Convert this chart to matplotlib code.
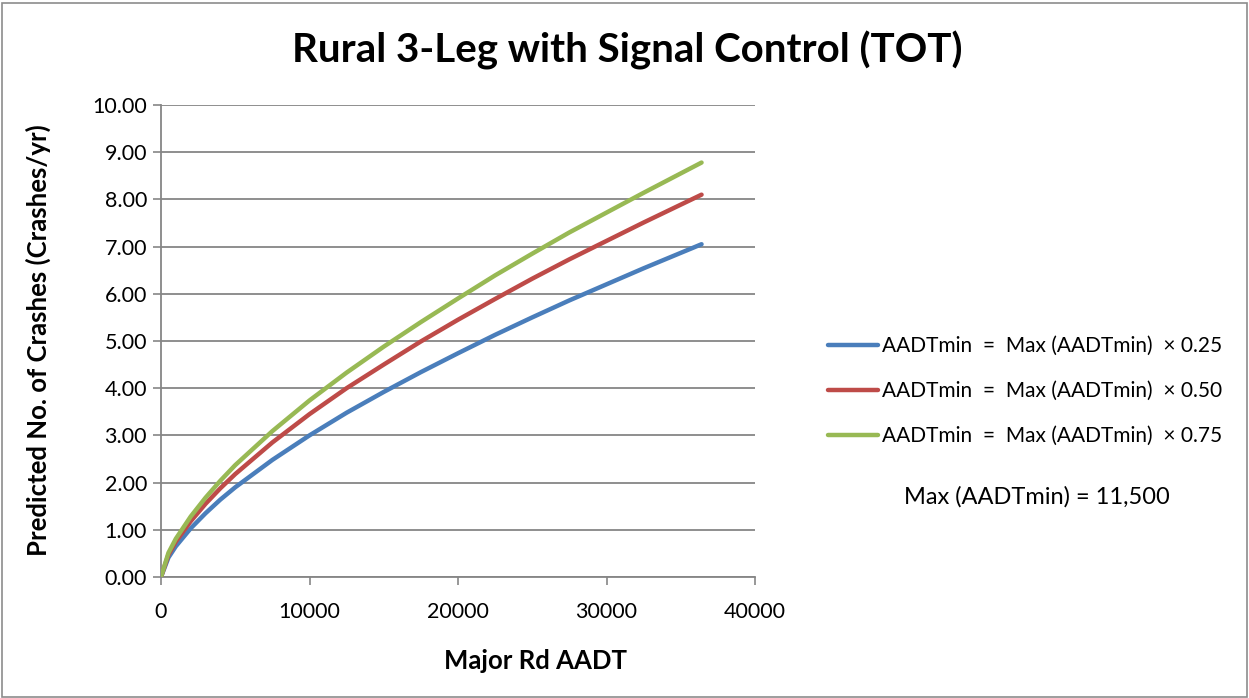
"""
Rural 3-Leg with Signal Control (TOT) - predicted crashes vs major road AADT.
Outputs out.png
"""
import matplotlib
matplotlib.use("Agg")
import matplotlib.pyplot as plt
from matplotlib.patches import Rectangle
from matplotlib.lines import Line2D

# ── Data ──────────────────────────────────────────────────────────────────────

major_aadt = [0, 500, 1000, 2000, 3000, 4000, 5000, 7500, 10000, 12500, 15000,
              17500, 20000, 22500, 25000, 27500, 30000, 32500, 36400]

crashes_025 = [0.00, 0.41, 0.65, 1.03, 1.35, 1.64, 1.90, 2.48, 3.00, 3.48, 3.92,
               4.34, 4.74, 5.13, 5.50, 5.86, 6.20, 6.54, 7.05]
crashes_050 = [0.00, 0.47, 0.75, 1.18, 1.55, 1.88, 2.18, 2.85, 3.45, 4.00, 4.50,
               4.99, 5.45, 5.89, 6.32, 6.73, 7.12, 7.51, 8.10]
crashes_075 = [0.00, 0.51, 0.81, 1.28, 1.68, 2.04, 2.37, 3.09, 3.74, 4.33, 4.88,
               5.40, 5.90, 6.39, 6.85, 7.30, 7.72, 8.14, 8.78]

series_labels = [
    "AADTmin  =  Max (AADTmin)  \u00d7 0.25",
    "AADTmin  =  Max (AADTmin)  \u00d7 0.50",
    "AADTmin  =  Max (AADTmin)  \u00d7 0.75",
]
x_ticks = [0, 10000, 20000, 30000, 40000]
y_ticks = [0, 1, 2, 3, 4, 5, 6, 7, 8, 9, 10]

# ── Style ─────────────────────────────────────────────────────────────────────

FONT   = ["Lato", "DejaVu Sans"]
BLUE   = "#4a7ebb"
RED    = "#be4b48"
GREEN  = "#98b954"
GRID   = "#868686"
plt.rcParams["font.family"] = FONT

fig = plt.figure(figsize=(12.49, 6.98), dpi=100)
fig.patch.set_facecolor("white")
fig.add_artist(Rectangle((0.002, 0.002), 0.996, 0.994, transform=fig.transFigure,
                         fill=False, edgecolor="#8c8c8c", linewidth=1.2))

ax = fig.add_axes([0.1289, 0.1734, 0.4756, 0.6762])

for ys, c in zip([crashes_025, crashes_050, crashes_075], [BLUE, RED, GREEN]):
    ax.plot(major_aadt, ys, color=c, linewidth=3.2, solid_capstyle="round", zorder=3)

ax.set_xlim(0, 40000)
ax.set_ylim(0, 10)
ax.set_xticks(x_ticks)
ax.set_xticklabels([str(v) for v in x_ticks])
ax.set_yticks(y_ticks)
ax.set_yticklabels([f"{v:.2f}" for v in y_ticks])
ax.tick_params(axis="both", labelsize=15.5, colors=GRID, labelcolor="black",
               length=6, width=1.2)
ax.tick_params(axis="x", pad=12)
ax.tick_params(axis="y", pad=4)
ax.yaxis.grid(True, color=GRID, linewidth=1.3, zorder=0)
ax.set_axisbelow(True)
for side in ["top", "right"]:
    ax.spines[side].set_visible(False)
for side in ["left", "bottom"]:
    ax.spines[side].set_color(GRID)
    ax.spines[side].set_linewidth(1.3)

# ── Text ──────────────────────────────────────────────────────────────────────

fig.text(0.502, 0.928, "Rural 3-Leg with Signal Control (TOT)", ha="center",
         va="center", fontsize=29, fontweight="bold")
fig.text(0.429, 0.053, "Major Rd AADT", ha="center", va="center",
         fontsize=18.5, fontweight="bold")
fig.text(0.031, 0.512, "Predicted No. of Crashes (Crashes/yr)", ha="center",
         va="center", rotation=90, fontsize=18.5, fontweight="bold")

handles = [Line2D([], [], color=c, linewidth=3.2, solid_capstyle="round")
           for c in [BLUE, RED, GREEN]]
fig.legend(handles, series_labels, loc="center left",
           bbox_to_anchor=(0.648, 0.44), frameon=False, fontsize=15,
           handlelength=2.4, handletextpad=0.2, labelspacing=1.2)
fig.text(0.830, 0.288, "Max (AADTmin) = 11,500", ha="center", va="center",
         fontsize=17)

fig.savefig("out.png", dpi=100, facecolor="white")
